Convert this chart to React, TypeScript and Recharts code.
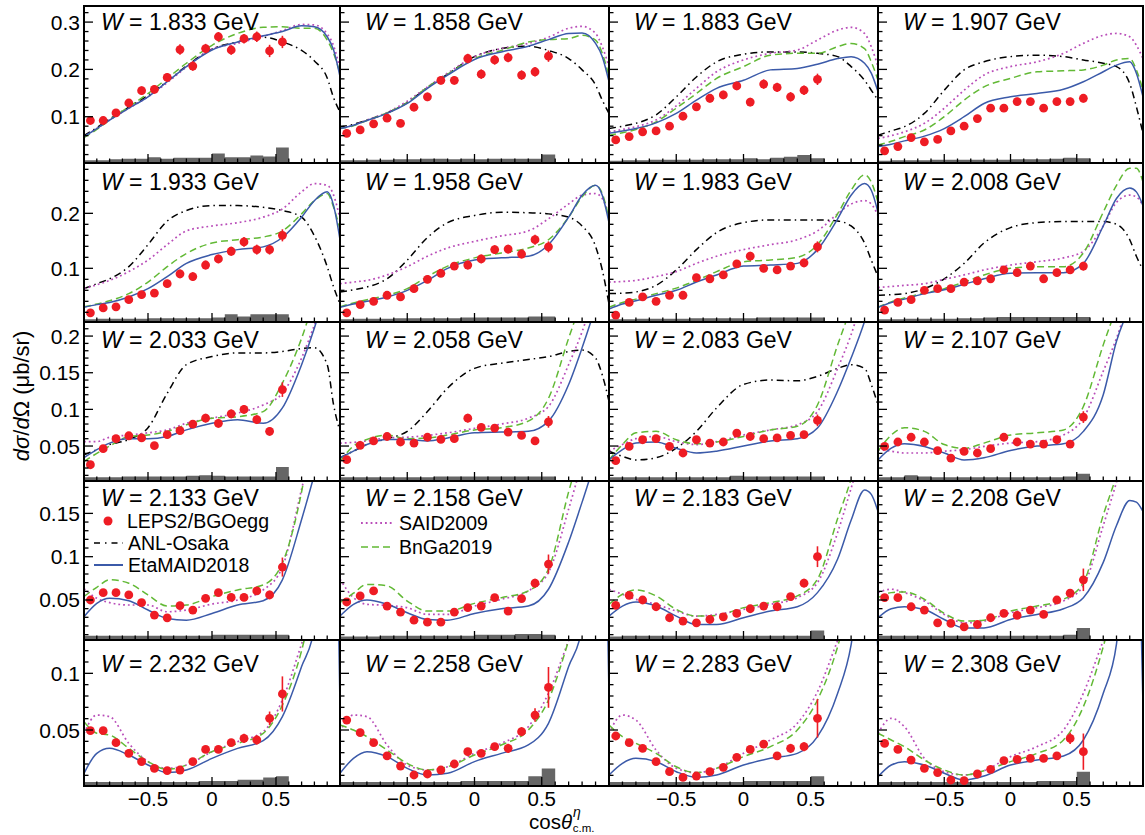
import React from "react";
import { ComposedChart, Line, Scatter, Area, XAxis, YAxis, ErrorBar } from "recharts";

const FONT = '"Liberation Sans", Arial, Helvetica, sans-serif';
const RED = "#ee1c24";
const BLUE = "#3b5aa9";
const GREEN = "#62b935";
const MAGENTA = "#b94db9";
const GRAY = "#666666";

// Beam energies of the 20 panels
const W_VALUES = [
  "1.833", "1.858", "1.883", "1.907",
  "1.933", "1.958", "1.983", "2.008",
  "2.033", "2.058", "2.083", "2.107",
  "2.133", "2.158", "2.183", "2.208",
  "2.232", "2.258", "2.283", "2.308",
];

// cos(theta) bin centres and bin edges of the measurement
const BIN_X = [-0.95, -0.85, -0.75, -0.65, -0.55, -0.45, -0.35, -0.25, -0.15, -0.05, 0.05, 0.15, 0.25, 0.35, 0.45, 0.55];
const BIN_EDGES = [-1, -0.9, -0.8, -0.7, -0.6, -0.5, -0.4, -0.3, -0.2, -0.1, 0, 0.1, 0.2, 0.3, 0.4, 0.5, 0.6];

// LEPS2/BGOegg differential cross sections (ub/sr)
const LEPS2 = [
  [0.092, 0.092, 0.108, 0.129, 0.155, 0.158, 0.183, 0.242, 0.207, 0.244, 0.269, 0.241, 0.265, 0.269, 0.239, 0.258],
  [0.065, 0.072, 0.085, 0.097, 0.086, 0.12, 0.142, 0.177, 0.177, 0.223, 0.19, 0.22, 0.225, 0.188, 0.195, 0.228],
  [0.051, 0.058, 0.068, 0.07, 0.08, 0.101, 0.121, 0.139, 0.146, 0.165, 0.131, 0.169, 0.162, 0.142, 0.156, 0.179],
  [0.028, 0.037, 0.056, 0.047, 0.052, 0.07, 0.08, 0.096, 0.118, 0.118, 0.132, 0.132, 0.118, 0.132, 0.132, 0.139],
  [0.019, 0.028, 0.03, 0.043, 0.052, 0.055, 0.072, 0.09, 0.085, 0.106, 0.117, 0.131, 0.148, 0.134, 0.134, 0.16],
  [0.019, 0.034, 0.04, 0.051, 0.048, 0.063, 0.08, 0.091, 0.104, 0.106, 0.117, 0.134, 0.135, 0.126, 0.152, 0.139],
  [0.015, 0.038, 0.048, 0.04, 0.051, 0.051, 0.083, 0.081, 0.088, 0.108, 0.122, 0.1, 0.097, 0.104, 0.11, 0.139],
  [0.024, 0.038, 0.043, 0.06, 0.063, 0.063, 0.075, 0.077, 0.081, 0.097, 0.092, 0.104, 0.081, 0.092, 0.097, 0.104],
  [0.0245, 0.0464, 0.06, 0.064, 0.061, 0.0505, 0.0655, 0.071, 0.08, 0.088, 0.081, 0.094, 0.1, 0.086, 0.07, 0.127],
  [0.0314, 0.051, 0.057, 0.063, 0.0555, 0.054, 0.062, 0.059, 0.06, 0.088, 0.0755, 0.0745, 0.069, 0.0645, 0.057, 0.083],
  [0.03, 0.0495, 0.0586, 0.06, 0.0495, 0.0405, 0.0586, 0.054, 0.0555, 0.0677, 0.063, 0.06, 0.061, 0.0645, 0.0655, 0.085],
  [0.0495, 0.0555, 0.062, 0.0555, 0.0436, 0.0336, 0.0427, 0.0405, 0.0464, 0.062, 0.0555, 0.0527, 0.0527, 0.0586, 0.0527, 0.0895],
  [0.05, 0.0585, 0.0585, 0.0558, 0.047, 0.0326, 0.0294, 0.0435, 0.0384, 0.0519, 0.0585, 0.053, 0.053, 0.0605, 0.0558, 0.088],
  [0.0477, 0.0547, 0.0605, 0.043, 0.036, 0.0267, 0.0244, 0.0244, 0.036, 0.0411, 0.043, 0.0527, 0.0372, 0.0516, 0.0694, 0.0915],
  [0.0438, 0.0554, 0.05, 0.0422, 0.0295, 0.0256, 0.0236, 0.0275, 0.0306, 0.0345, 0.0399, 0.043, 0.0422, 0.0539, 0.0694, 0.1],
  [0.0527, 0.0527, 0.0422, 0.0384, 0.0236, 0.0229, 0.019, 0.0217, 0.0295, 0.0345, 0.0322, 0.0384, 0.0333, 0.05, 0.0578, 0.0733],
  [0.0494, 0.0494, 0.0388, 0.0294, 0.0221, 0.0162, 0.0141, 0.0147, 0.0221, 0.0329, 0.0329, 0.0388, 0.0426, 0.0412, 0.0603, 0.0818],
  [0.0588, 0.0476, 0.0388, 0.0271, 0.0182, 0.0103, 0.0112, 0.0147, 0.02, 0.0309, 0.0294, 0.0353, 0.0338, 0.0485, 0.0632, 0.0876],
  [0.0447, 0.0388, 0.0338, 0.0221, 0.0132, 0.0082, 0.0094, 0.0132, 0.0171, 0.0259, 0.0329, 0.0376, 0.0271, 0.0338, 0.0353, 0.0603],
  [0.0382, 0.0329, 0.0235, 0.0162, 0.0124, 0.0059, 0.0053, 0.0112, 0.0153, 0.0229, 0.0241, 0.025, 0.025, 0.0271, 0.0426, 0.0309],
];

// Statistical errors
const LEPS2_ERR = [
  [0.008, 0.008, 0.008, 0.008, 0.009, 0.009, 0.009, 0.011, 0.01, 0.01, 0.01, 0.01, 0.01, 0.011, 0.013, 0.013],
  [0.007, 0.007, 0.007, 0.008, 0.008, 0.008, 0.009, 0.009, 0.009, 0.01, 0.01, 0.01, 0.01, 0.01, 0.01, 0.012],
  [0.006, 0.006, 0.007, 0.007, 0.007, 0.008, 0.008, 0.009, 0.009, 0.009, 0.009, 0.01, 0.01, 0.01, 0.01, 0.012],
  [0.006, 0.006, 0.006, 0.006, 0.007, 0.007, 0.007, 0.008, 0.008, 0.008, 0.008, 0.008, 0.008, 0.008, 0.008, 0.009],
  [0.006, 0.006, 0.006, 0.006, 0.007, 0.007, 0.007, 0.008, 0.008, 0.008, 0.008, 0.008, 0.009, 0.009, 0.009, 0.011],
  [0.006, 0.006, 0.006, 0.006, 0.007, 0.007, 0.007, 0.007, 0.007, 0.008, 0.008, 0.008, 0.008, 0.008, 0.009, 0.01],
  [0.006, 0.006, 0.006, 0.006, 0.006, 0.006, 0.007, 0.007, 0.007, 0.007, 0.008, 0.007, 0.007, 0.007, 0.008, 0.01],
  [0.005, 0.005, 0.005, 0.006, 0.006, 0.006, 0.006, 0.006, 0.006, 0.007, 0.007, 0.007, 0.007, 0.007, 0.007, 0.008],
  [0.005, 0.005, 0.005, 0.005, 0.005, 0.005, 0.005, 0.005, 0.005, 0.006, 0.006, 0.006, 0.006, 0.006, 0.006, 0.01],
  [0.004, 0.004, 0.004, 0.005, 0.005, 0.005, 0.005, 0.005, 0.005, 0.006, 0.005, 0.005, 0.005, 0.005, 0.005, 0.008],
  [0.004, 0.004, 0.004, 0.004, 0.004, 0.004, 0.005, 0.005, 0.005, 0.005, 0.005, 0.005, 0.005, 0.005, 0.005, 0.008],
  [0.004, 0.004, 0.004, 0.004, 0.004, 0.004, 0.004, 0.004, 0.004, 0.005, 0.005, 0.005, 0.005, 0.005, 0.005, 0.008],
  [0.004, 0.004, 0.004, 0.004, 0.004, 0.004, 0.004, 0.004, 0.004, 0.004, 0.004, 0.004, 0.004, 0.004, 0.005, 0.011],
  [0.004, 0.004, 0.004, 0.004, 0.004, 0.003, 0.003, 0.003, 0.004, 0.004, 0.004, 0.004, 0.004, 0.004, 0.005, 0.011],
  [0.003, 0.003, 0.003, 0.003, 0.003, 0.003, 0.003, 0.003, 0.003, 0.003, 0.003, 0.004, 0.004, 0.004, 0.005, 0.012],
  [0.003, 0.003, 0.003, 0.003, 0.003, 0.003, 0.003, 0.003, 0.003, 0.003, 0.003, 0.004, 0.004, 0.004, 0.005, 0.013],
  [0.003, 0.003, 0.003, 0.003, 0.003, 0.003, 0.003, 0.003, 0.003, 0.003, 0.003, 0.003, 0.004, 0.004, 0.006, 0.0155],
  [0.003, 0.003, 0.003, 0.003, 0.003, 0.003, 0.003, 0.003, 0.003, 0.003, 0.003, 0.003, 0.004, 0.004, 0.006, 0.018],
  [0.003, 0.003, 0.003, 0.003, 0.003, 0.003, 0.003, 0.003, 0.003, 0.003, 0.003, 0.003, 0.003, 0.004, 0.004, 0.017],
  [0.003, 0.003, 0.003, 0.003, 0.003, 0.003, 0.003, 0.003, 0.003, 0.003, 0.003, 0.003, 0.003, 0.003, 0.005, 0.016],
];

// Systematic uncertainties (histogram heights above the frame bottom)
const SYS = [
  [0.006, 0.006, 0.008, 0.009, 0.009, 0.012, 0.009, 0.011, 0.011, 0.011, 0.02, 0.012, 0.012, 0.016, 0.014, 0.033],
  [0.006, 0.006, 0.007, 0.007, 0.008, 0.008, 0.009, 0.009, 0.008, 0.009, 0.008, 0.009, 0.009, 0.009, 0.009, 0.018],
  [0.005, 0.006, 0.006, 0.007, 0.007, 0.007, 0.007, 0.008, 0.008, 0.008, 0.01, 0.008, 0.011, 0.013, 0.017, 0.01],
  [0.005, 0.006, 0.006, 0.006, 0.007, 0.007, 0.007, 0.007, 0.007, 0.007, 0.008, 0.008, 0.008, 0.009, 0.011, 0.01],
  [0.005, 0.006, 0.006, 0.006, 0.006, 0.007, 0.007, 0.007, 0.007, 0.007, 0.008, 0.014, 0.01, 0.014, 0.014, 0.014],
  [0.005, 0.006, 0.006, 0.006, 0.007, 0.007, 0.007, 0.007, 0.007, 0.008, 0.008, 0.008, 0.008, 0.008, 0.01, 0.01],
  [0.005, 0.005, 0.006, 0.006, 0.006, 0.006, 0.007, 0.007, 0.007, 0.007, 0.007, 0.008, 0.008, 0.008, 0.008, 0.008],
  [0.005, 0.005, 0.006, 0.006, 0.006, 0.006, 0.007, 0.007, 0.008, 0.009, 0.009, 0.009, 0.009, 0.009, 0.009, 0.009],
  [0.005, 0.005, 0.005, 0.006, 0.006, 0.006, 0.006, 0.006, 0.007, 0.008, 0.007, 0.006, 0.006, 0.006, 0.006, 0.019],
  [0.005, 0.005, 0.005, 0.005, 0.005, 0.005, 0.005, 0.006, 0.006, 0.006, 0.006, 0.006, 0.006, 0.006, 0.006, 0.006],
  [0.005, 0.005, 0.005, 0.005, 0.005, 0.005, 0.005, 0.005, 0.005, 0.007, 0.006, 0.006, 0.006, 0.006, 0.006, 0.006],
  [0.005, 0.005, 0.008, 0.006, 0.005, 0.005, 0.005, 0.005, 0.005, 0.005, 0.005, 0.005, 0.005, 0.005, 0.006, 0.01],
  [0.005, 0.005, 0.005, 0.005, 0.005, 0.005, 0.005, 0.005, 0.005, 0.005, 0.006, 0.006, 0.006, 0.006, 0.006, 0.006],
  [0.004, 0.004, 0.004, 0.005, 0.005, 0.005, 0.005, 0.005, 0.005, 0.005, 0.006, 0.006, 0.006, 0.007, 0.007, 0.006],
  [0.004, 0.005, 0.005, 0.005, 0.005, 0.005, 0.005, 0.005, 0.005, 0.005, 0.005, 0.005, 0.005, 0.005, 0.005, 0.011],
  [0.005, 0.005, 0.005, 0.005, 0.005, 0.005, 0.005, 0.005, 0.005, 0.005, 0.005, 0.005, 0.005, 0.005, 0.006, 0.014],
  [0.0035, 0.0035, 0.0035, 0.0035, 0.0035, 0.0035, 0.0035, 0.0035, 0.0035, 0.0045, 0.0045, 0.0045, 0.0055, 0.0055, 0.0075, 0.0085],
  [0.0035, 0.0035, 0.0035, 0.0035, 0.0035, 0.0035, 0.0035, 0.0035, 0.0035, 0.0045, 0.0045, 0.0045, 0.0045, 0.0045, 0.0085, 0.0155],
  [0.0035, 0.0035, 0.0035, 0.0035, 0.0035, 0.0035, 0.0035, 0.0035, 0.0035, 0.0035, 0.0045, 0.0045, 0.0045, 0.0045, 0.0045, 0.0085],
  [0.0035, 0.0035, 0.0035, 0.0035, 0.0035, 0.0035, 0.0035, 0.0035, 0.0035, 0.0035, 0.0035, 0.0035, 0.0045, 0.0045, 0.0045, 0.0125],
];

// cos(theta) sampling of the model curves
const CURVE_X = [-1, -0.9, -0.8, -0.65, -0.5, -0.35, -0.2, 0, 0.2, 0.4, 0.55, 0.7, 0.8, 0.9, 0.95, 1];

// ANL-Osaka (available up to W = 2.083 GeV)
const ANL = [
  [0.06, 0.077, 0.095, 0.12, 0.145, 0.175, 0.207, 0.243, 0.258, 0.268, 0.258, 0.24, 0.218, 0.182, 0.14, 0.11],
  [0.078, 0.084, 0.093, 0.108, 0.13, 0.162, 0.19, 0.227, 0.244, 0.249, 0.24, 0.223, 0.199, 0.167, 0.135, 0.107],
  [0.075, 0.08, 0.086, 0.104, 0.142, 0.184, 0.216, 0.232, 0.237, 0.237, 0.234, 0.227, 0.206, 0.177, 0.156, 0.135],
  [0.061, 0.07, 0.079, 0.107, 0.156, 0.199, 0.216, 0.227, 0.23, 0.227, 0.22, 0.213, 0.206, 0.17, 0.121, 0.065],
  [0.063, 0.072, 0.081, 0.103, 0.143, 0.186, 0.205, 0.214, 0.214, 0.211, 0.205, 0.193, 0.159, 0.103, 0.066, 0.035],
  [0.057, 0.061, 0.066, 0.081, 0.115, 0.156, 0.183, 0.196, 0.202, 0.201, 0.199, 0.193, 0.177, 0.14, 0.097, 0.035],
  [0.054, 0.055, 0.057, 0.069, 0.097, 0.134, 0.165, 0.183, 0.188, 0.188, 0.188, 0.186, 0.177, 0.146, 0.115, 0.085],
  [0.051, 0.052, 0.054, 0.063, 0.081, 0.109, 0.146, 0.174, 0.183, 0.185, 0.185, 0.185, 0.18, 0.152, 0.122, 0.097],
  [0.038, 0.045, 0.052, 0.059, 0.075, 0.122, 0.161, 0.172, 0.177, 0.177, 0.179, 0.183, 0.184, 0.161, 0.106, 0.07],
  [0.034, 0.043, 0.052, 0.06, 0.07, 0.097, 0.129, 0.156, 0.163, 0.168, 0.172, 0.179, 0.181, 0.17, 0.147, 0.111],
  [0.043, 0.036, 0.031, 0.034, 0.047, 0.07, 0.102, 0.134, 0.14, 0.139, 0.145, 0.156, 0.161, 0.156, 0.134, 0.106],
  null, null, null, null, null, null, null, null, null,
];

// SAID2009
const SAID = [
  [0.058, 0.075, 0.093, 0.118, 0.142, 0.172, 0.205, 0.243, 0.255, 0.27, 0.282, 0.295, 0.294, 0.275, 0.25, 0.2],
  [0.075, 0.082, 0.093, 0.109, 0.133, 0.163, 0.192, 0.227, 0.244, 0.255, 0.268, 0.287, 0.291, 0.276, 0.248, 0.206],
  [0.068, 0.073, 0.079, 0.093, 0.123, 0.16, 0.195, 0.22, 0.234, 0.241, 0.262, 0.283, 0.289, 0.276, 0.248, 0.206],
  [0.054, 0.06, 0.068, 0.086, 0.118, 0.156, 0.188, 0.206, 0.216, 0.234, 0.255, 0.272, 0.276, 0.269, 0.251, 0.223],
  [0.063, 0.07, 0.078, 0.094, 0.115, 0.143, 0.168, 0.177, 0.183, 0.193, 0.208, 0.239, 0.254, 0.251, 0.233, 0.19],
  [0.072, 0.075, 0.078, 0.088, 0.103, 0.122, 0.137, 0.149, 0.159, 0.168, 0.19, 0.217, 0.233, 0.236, 0.227, 0.196],
  [0.075, 0.076, 0.078, 0.085, 0.094, 0.109, 0.122, 0.134, 0.143, 0.152, 0.168, 0.199, 0.217, 0.223, 0.217, 0.196],
  [0.065, 0.067, 0.069, 0.072, 0.08, 0.088, 0.097, 0.106, 0.112, 0.119, 0.131, 0.177, 0.22, 0.233, 0.23, 0.214],
  [0.056, 0.056, 0.062, 0.065, 0.068, 0.072, 0.081, 0.088, 0.095, 0.106, 0.122, 0.17, 0.215, 0.26, 0.28, 0.29],
  [0.054, 0.055, 0.057, 0.061, 0.062, 0.0645, 0.068, 0.074, 0.08, 0.088, 0.104, 0.161, 0.206, 0.26, 0.28, 0.29],
  [0.043, 0.052, 0.06, 0.063, 0.056, 0.052, 0.056, 0.065, 0.072, 0.079, 0.097, 0.156, 0.202, 0.26, 0.28, 0.29],
  [0.045, 0.043, 0.0405, 0.0405, 0.043, 0.045, 0.0495, 0.054, 0.056, 0.065, 0.088, 0.152, 0.197, 0.25, 0.27, 0.29],
  [0.063, 0.052, 0.047, 0.0442, 0.0442, 0.0364, 0.0384, 0.0453, 0.05, 0.0616, 0.088, 0.178, 0.24, 0.28, 0.3, 0.31],
  [0.074, 0.0527, 0.045, 0.0438, 0.0411, 0.0333, 0.0333, 0.043, 0.0508, 0.0605, 0.0818, 0.155, 0.21, 0.27, 0.29, 0.28],
  [0.0624, 0.0566, 0.0508, 0.045, 0.0372, 0.0314, 0.0333, 0.0391, 0.045, 0.0527, 0.07, 0.128, 0.179, 0.23, 0.25, 0.26],
  [0.0585, 0.0624, 0.0585, 0.0488, 0.0333, 0.0236, 0.0256, 0.0353, 0.0411, 0.0488, 0.0663, 0.136, 0.186, 0.24, 0.26, 0.27],
  [0.0471, 0.0632, 0.0618, 0.0382, 0.0221, 0.0162, 0.0191, 0.0309, 0.0397, 0.0485, 0.0765, 0.126, 0.16, 0.2, 0.22, 0.23],
  [0.0485, 0.0632, 0.0618, 0.0368, 0.0191, 0.0147, 0.0176, 0.0294, 0.0382, 0.0529, 0.0824, 0.129, 0.16, 0.2, 0.22, 0.23],
  [0.0471, 0.0632, 0.0588, 0.0324, 0.0162, 0.0124, 0.0162, 0.0294, 0.0412, 0.0559, 0.0838, 0.129, 0.16, 0.2, 0.22, 0.23],
  [0.0471, 0.0603, 0.0529, 0.025, 0.0132, 0.0103, 0.0141, 0.0265, 0.0353, 0.05, 0.0824, 0.129, 0.16, 0.2, 0.22, 0.23],
];

// BnGa2019
const BNGA = [
  [0.056, 0.073, 0.093, 0.121, 0.149, 0.181, 0.213, 0.251, 0.276, 0.289, 0.29, 0.287, 0.287, 0.262, 0.234, 0.192],
  [0.075, 0.081, 0.092, 0.108, 0.13, 0.162, 0.19, 0.223, 0.24, 0.258, 0.263, 0.265, 0.272, 0.262, 0.234, 0.185],
  [0.061, 0.066, 0.073, 0.089, 0.118, 0.149, 0.181, 0.206, 0.23, 0.234, 0.234, 0.248, 0.255, 0.244, 0.216, 0.177],
  [0.04, 0.048, 0.058, 0.072, 0.1, 0.135, 0.163, 0.181, 0.195, 0.197, 0.199, 0.209, 0.22, 0.223, 0.199, 0.156],
  [0.03, 0.035, 0.041, 0.054, 0.075, 0.103, 0.127, 0.146, 0.152, 0.157, 0.168, 0.199, 0.223, 0.236, 0.211, 0.171],
  [0.03, 0.037, 0.043, 0.051, 0.063, 0.085, 0.104, 0.119, 0.128, 0.137, 0.152, 0.193, 0.23, 0.251, 0.236, 0.19],
  [0.029, 0.038, 0.044, 0.054, 0.064, 0.078, 0.094, 0.112, 0.115, 0.12, 0.143, 0.199, 0.242, 0.27, 0.257, 0.22],
  [0.029, 0.039, 0.046, 0.055, 0.063, 0.075, 0.088, 0.1, 0.103, 0.103, 0.128, 0.202, 0.251, 0.282, 0.282, 0.257],
  [0.029, 0.04, 0.05, 0.063, 0.065, 0.07, 0.079, 0.088, 0.09, 0.097, 0.136, 0.197, 0.25, 0.3, 0.32, 0.33],
  [0.029, 0.05, 0.059, 0.065, 0.06, 0.061, 0.065, 0.072, 0.075, 0.084, 0.115, 0.197, 0.25, 0.3, 0.32, 0.33],
  [0.031, 0.052, 0.068, 0.07, 0.0586, 0.053, 0.0555, 0.063, 0.072, 0.077, 0.106, 0.188, 0.24, 0.3, 0.32, 0.33],
  [0.043, 0.065, 0.075, 0.07, 0.052, 0.047, 0.054, 0.065, 0.068, 0.072, 0.104, 0.188, 0.24, 0.3, 0.32, 0.33],
  [0.054, 0.0647, 0.0733, 0.0694, 0.0558, 0.043, 0.0442, 0.054, 0.0616, 0.0674, 0.0927, 0.175, 0.26, 0.3, 0.32, 0.33],
  [0.047, 0.0578, 0.068, 0.0663, 0.0488, 0.0372, 0.0372, 0.0461, 0.0527, 0.0605, 0.0857, 0.175, 0.23, 0.3, 0.32, 0.3],
  [0.045, 0.0566, 0.0616, 0.0547, 0.0391, 0.0314, 0.0322, 0.0411, 0.0469, 0.0547, 0.074, 0.144, 0.19, 0.25, 0.27, 0.28],
  [0.0527, 0.0585, 0.0593, 0.0508, 0.0345, 0.0256, 0.0267, 0.0372, 0.043, 0.0508, 0.07, 0.148, 0.194, 0.25, 0.27, 0.28],
  [0.0574, 0.0471, 0.0456, 0.0338, 0.0221, 0.0153, 0.0191, 0.0309, 0.0382, 0.0471, 0.072, 0.12, 0.17, 0.22, 0.25, 0.27],
  [0.0544, 0.05, 0.0441, 0.0324, 0.0206, 0.0147, 0.0176, 0.0279, 0.0368, 0.05, 0.0765, 0.129, 0.17, 0.22, 0.25, 0.27],
  [0.0544, 0.0441, 0.0382, 0.0294, 0.0176, 0.0124, 0.0162, 0.0265, 0.0353, 0.05, 0.0765, 0.1235, 0.17, 0.22, 0.24, 0.25],
  [0.0471, 0.0412, 0.0353, 0.0235, 0.0147, 0.0103, 0.0141, 0.0221, 0.0294, 0.0412, 0.0706, 0.1235, 0.17, 0.22, 0.24, 0.25],
];

// EtaMAID2018
const MAID = [
  [0.058, 0.075, 0.093, 0.118, 0.142, 0.174, 0.206, 0.241, 0.258, 0.271, 0.28, 0.292, 0.29, 0.269, 0.241, 0.185],
  [0.075, 0.082, 0.092, 0.107, 0.128, 0.16, 0.188, 0.221, 0.237, 0.249, 0.263, 0.276, 0.277, 0.255, 0.227, 0.174],
  [0.065, 0.07, 0.075, 0.087, 0.107, 0.135, 0.16, 0.177, 0.199, 0.202, 0.211, 0.223, 0.227, 0.213, 0.192, 0.153],
  [0.037, 0.042, 0.049, 0.059, 0.075, 0.1, 0.128, 0.142, 0.149, 0.158, 0.174, 0.195, 0.209, 0.216, 0.192, 0.142],
  [0.029, 0.034, 0.038, 0.048, 0.063, 0.085, 0.109, 0.125, 0.134, 0.139, 0.156, 0.193, 0.223, 0.239, 0.214, 0.152],
  [0.029, 0.035, 0.04, 0.048, 0.06, 0.078, 0.1, 0.115, 0.119, 0.122, 0.143, 0.193, 0.233, 0.251, 0.233, 0.183],
  [0.026, 0.035, 0.041, 0.051, 0.06, 0.075, 0.088, 0.104, 0.106, 0.109, 0.134, 0.19, 0.233, 0.254, 0.242, 0.202],
  [0.029, 0.038, 0.044, 0.054, 0.061, 0.071, 0.081, 0.091, 0.092, 0.092, 0.109, 0.177, 0.227, 0.246, 0.239, 0.214],
  [0.034, 0.045, 0.054, 0.06, 0.06, 0.063, 0.072, 0.081, 0.086, 0.081, 0.102, 0.161, 0.211, 0.27, 0.3, 0.32],
  [0.034, 0.043, 0.052, 0.059, 0.059, 0.057, 0.061, 0.068, 0.069, 0.07, 0.084, 0.134, 0.184, 0.24, 0.27, 0.29],
  [0.031, 0.045, 0.054, 0.0555, 0.047, 0.0405, 0.043, 0.05, 0.057, 0.06, 0.0745, 0.125, 0.17, 0.22, 0.25, 0.28],
  [0.031, 0.047, 0.053, 0.0495, 0.0405, 0.031, 0.034, 0.044, 0.05, 0.053, 0.07, 0.12, 0.193, 0.24, 0.26, 0.28],
  [0.0306, 0.046, 0.052, 0.0492, 0.0384, 0.0287, 0.0267, 0.0345, 0.0442, 0.0492, 0.0733, 0.143, 0.195, 0.25, 0.28, 0.3],
  [0.0314, 0.045, 0.05, 0.045, 0.0353, 0.0275, 0.0267, 0.0345, 0.04, 0.043, 0.0624, 0.117, 0.163, 0.21, 0.23, 0.2],
  [0.0314, 0.043, 0.0477, 0.043, 0.0314, 0.0217, 0.0217, 0.0295, 0.0372, 0.0422, 0.0585, 0.0973, 0.142, 0.177, 0.172, 0.152],
  [0.0295, 0.0399, 0.0422, 0.0391, 0.0275, 0.0178, 0.0178, 0.0275, 0.0333, 0.0399, 0.0527, 0.0934, 0.136, 0.165, 0.163, 0.152],
  [0.0118, 0.0294, 0.0338, 0.0279, 0.0191, 0.0124, 0.0147, 0.025, 0.0338, 0.0406, 0.0618, 0.106, 0.14, 0.3, 0.3, 0.07],
  [0.0118, 0.025, 0.0309, 0.0265, 0.0162, 0.0103, 0.0118, 0.0221, 0.0294, 0.0368, 0.0559, 0.106, 0.14, 0.3, 0.3, 0.08],
  [0.0103, 0.0206, 0.025, 0.0221, 0.0132, 0.0082, 0.0103, 0.0191, 0.025, 0.0294, 0.0441, 0.0824, 0.125, 0.22, 0.2, 0.12],
  [0.0088, 0.0191, 0.0221, 0.0191, 0.0118, 0.0059, 0.0094, 0.0191, 0.0235, 0.0271, 0.0412, 0.0824, 0.126, 0.25, 0.25, 0.07],
];

// Axis settings per row
const Y_DOMAINS = [
  [0.0022, 0.334],
  [0.0024, 0.2915],
  [0.0023, 0.2192],
  [0.0038, 0.1874],
  [0.0006, 0.1294],
];
const Y_MAJOR = [
  [0.1, 0.2, 0.3],
  [0.1, 0.2],
  [0.05, 0.1, 0.15, 0.2],
  [0.05, 0.1, 0.15],
  [0.05, 0.1],
];
const Y_MINOR_STEP = [0.02, 0.02, 0.01, 0.01, 0.01];
const X_MAJOR = [-0.5, 0, 0.5];
const X_TICKS = [-0.9, -0.8, -0.7, -0.6, -0.5, -0.4, -0.3, -0.2, -0.1, 0, 0.1, 0.2, 0.3, 0.4, 0.5, 0.6, 0.7, 0.8, 0.9];

// Page layout of the panel grid
const COL_LEFT = [84, 340, 609, 878];
const COL_WIDTH = [256, 269, 269, 265];
const ROW_TOP = [6, 163, 322, 481, 640];
const ROW_HEIGHT = [157, 159, 159, 159, 146];
const TITLE_DX = [17, 25, 25, 25];
const TITLE_DY = [16, 19, 18, 17, 24];
const AXIS_W = 84;
const AXIS_H = 40;

function tickList(step: number, max: number) {
  const out: number[] = [];
  for (let k = 1; k * step <= max + 1e-9; k++) out.push(Math.round(k * step * 1000) / 1000);
  return out;
}

const isMajor = (v: number, majors: number[]) => majors.some((m) => Math.abs(m - v) < 1e-6);

function YTick(props: any) {
  const { x, y, payload, majors, showLabel } = props;
  const v = payload.value;
  const major = isMajor(v, majors);
  return (
    <g>
      <line x1={x} x2={x + (major ? 9 : 4.5)} y1={y} y2={y} stroke="#000" strokeWidth={1.3} />
      {major && showLabel ? (
        <text x={x - 4} y={y} textAnchor="end" dominantBaseline="central" fontSize={21} fontFamily={FONT} fill="#000">
          {String(v)}
        </text>
      ) : null}
    </g>
  );
}

function XTick(props: any) {
  const { x, y, payload, showLabel } = props;
  const v = payload.value;
  const major = isMajor(v, X_MAJOR);
  const label = v < 0 ? "\u2212" + String(-v) : String(v);
  return (
    <g>
      <line x1={x} x2={x} y1={y} y2={y - (major ? 9 : 4.5)} stroke="#000" strokeWidth={1.3} />
      {major && showLabel ? (
        <text x={x} y={y + 12.5} textAnchor="middle" dominantBaseline="central" fontSize={20.5} fontFamily={FONT} fill="#000">
          {label}
        </text>
      ) : null}
    </g>
  );
}

function Panel({ idx }: { idx: number }) {
  const r = Math.floor(idx / 4);
  const c = idx % 4;
  const left = COL_LEFT[c];
  const top = ROW_TOP[r];
  const w = COL_WIDTH[c];
  const h = ROW_HEIGHT[r];
  const [lo, hi] = Y_DOMAINS[r];
  const majors = Y_MAJOR[r];
  const yTicks = tickList(Y_MINOR_STEP[r], hi);
  const points = BIN_X.map((x, i) => ({ x, y: LEPS2[idx][i], e: LEPS2_ERR[idx][i] }));
  const sys = BIN_EDGES.map((x, i) => ({ x, y: lo + SYS[idx][Math.min(i, SYS[idx].length - 1)] }));
  const curve = (vals: number[]) => CURVE_X.map((x, i) => ({ x, y: vals[i] }));
  const anl = ANL[idx];
  return (
    <div style={{ position: "absolute", left: left - AXIS_W, top, width: w + AXIS_W, height: h + AXIS_H }}>
      <ComposedChart width={w + AXIS_W} height={h + AXIS_H} margin={{ top: 0, right: 0, bottom: 0, left: 0 }}>
        <XAxis
          xAxisId="x"
          type="number"
          dataKey="x"
          domain={[-1, 1]}
          allowDataOverflow
          ticks={X_TICKS}
          interval={0}
          tickSize={0}
          tickMargin={0}
          tickLine={false}
          axisLine={false}
          height={AXIS_H}
          tick={(p: any) => <XTick {...p} showLabel={r === 4} />}
        />
        <YAxis
          yAxisId="y"
          type="number"
          dataKey="y"
          domain={[lo, hi]}
          allowDataOverflow
          ticks={yTicks}
          interval={0}
          tickSize={0}
          tickMargin={0}
          tickLine={false}
          axisLine={false}
          width={AXIS_W}
          tick={(p: any) => <YTick {...p} majors={majors} showLabel={c === 0} />}
        />
        <Area
          xAxisId="x"
          yAxisId="y"
          data={sys}
          dataKey="y"
          type="stepAfter"
          fill={GRAY}
          fillOpacity={1}
          stroke="none"
          isAnimationActive={false}
        />
        {anl ? (
          <Line xAxisId="x" yAxisId="y" data={curve(anl)} dataKey="y" type="monotone" stroke="#000" strokeWidth={1.5}
            strokeDasharray="7 4 1.5 4" dot={false} activeDot={false} isAnimationActive={false} />
        ) : null}
        <Line xAxisId="x" yAxisId="y" data={curve(SAID[idx])} dataKey="y" type="monotone" stroke={MAGENTA} strokeWidth={1.7}
          strokeDasharray="1.8 3" dot={false} activeDot={false} isAnimationActive={false} />
        <Line xAxisId="x" yAxisId="y" data={curve(BNGA[idx])} dataKey="y" type="monotone" stroke={GREEN} strokeWidth={1.5}
          strokeDasharray="7 4" dot={false} activeDot={false} isAnimationActive={false} />
        <Line xAxisId="x" yAxisId="y" data={curve(MAID[idx])} dataKey="y" type="monotone" stroke={BLUE} strokeWidth={1.5}
          dot={false} activeDot={false} isAnimationActive={false} />
        <Scatter
          xAxisId="x"
          yAxisId="y"
          data={points}
          dataKey="y"
          fill={RED}
          isAnimationActive={false}
          shape={(p: any) => <circle cx={p.cx} cy={p.cy} r={4.4} fill={RED} />}
        >
          <ErrorBar dataKey="e" direction="y" width={0} stroke={RED} strokeWidth={1.6} isAnimationActive={false} />
        </Scatter>
      </ComposedChart>
    </div>
  );
}

function PanelFrame({ idx }: { idx: number }) {
  const r = Math.floor(idx / 4);
  const c = idx % 4;
  const left = COL_LEFT[c];
  const top = ROW_TOP[r];
  const w = COL_WIDTH[c];
  const h = ROW_HEIGHT[r];
  return (
    <>
      <div
        style={{
          position: "absolute",
          left: left - 1,
          top: top - 1,
          width: w + 2,
          height: h + 2,
          border: "2px solid #000",
          boxSizing: "border-box",
          pointerEvents: "none",
        }}
      />
      <div
        style={{
          position: "absolute",
          left: left + TITLE_DX[c],
          top: top + TITLE_DY[r] - 13,
          height: 26,
          lineHeight: "26px",
          fontSize: 23,
          fontFamily: FONT,
          whiteSpace: "nowrap",
          color: "#000",
        }}
      >
        <i>W</i> = {W_VALUES[idx]} GeV
      </div>
    </>
  );
}

// Legend rows: vertical centre, glyph and label
function Legends() {
  const textProps = { fontSize: 19.5, fontFamily: FONT, fill: "#000", dominantBaseline: "central" as const };
  return (
    <svg style={{ position: "absolute", left: 0, top: 0 }} width={1145} height={835}>
      <circle cx={108} cy={521} r={4.5} fill={RED} />
      <text x={127} y={521} {...textProps}>LEPS2/BGOegg</text>
      <line x1={94} x2={123} y1={543} y2={543} stroke="#000" strokeWidth={1.5} strokeDasharray="6 5 1.5 5" />
      <text x={128} y={543} {...textProps}>ANL-Osaka</text>
      <line x1={94} x2={123} y1={565} y2={565} stroke={BLUE} strokeWidth={2} />
      <text x={128} y={565} {...textProps}>EtaMAID2018</text>
      <line x1={361} x2={393} y1={523} y2={523} stroke={MAGENTA} strokeWidth={1.8} strokeDasharray="1.8 3" />
      <text x={399} y={523} {...textProps}>SAID2009</text>
      <line x1={361} x2={393} y1={547} y2={547} stroke={GREEN} strokeWidth={1.6} strokeDasharray="7 4" />
      <text x={399} y={547} {...textProps}>BnGa2019</text>
    </svg>
  );
}

function AxisTitles() {
  return (
    <>
      <div
        style={{
          position: "absolute",
          left: 22 - 100,
          top: 396 - 14,
          width: 200,
          height: 28,
          lineHeight: "28px",
          textAlign: "center",
          transform: "rotate(-90deg)",
          fontSize: 22,
          fontFamily: FONT,
          whiteSpace: "nowrap",
          color: "#000",
        }}
      >
        <i>d</i>
        <i>σ</i>/<i>d</i>Ω (μb/sr)
      </div>
      <svg style={{ position: "absolute", left: 0, top: 0 }} width={1145} height={835}>
        <text x={529} y={829} fontSize={20.5} fontFamily={FONT} fill="#000">
          cos<tspan fontStyle="italic">θ</tspan>
          <tspan fontSize={14} fontStyle="italic" dx={1} dy={-12}>η</tspan>
          <tspan fontSize={11.5} dx={-8} dy={14.5}>c.m.</tspan>
        </text>
      </svg>
    </>
  );
}

export default function App() {
  return (
    <div
      style={{
        position: "absolute",
        left: 0,
        top: 0,
        width: 1145,
        height: 835,
        background: "#fff",
        overflow: "hidden",
        fontFamily: FONT,
      }}
    >
      {W_VALUES.map((_, i) => (
        <Panel key={"p" + i} idx={i} />
      ))}
      {W_VALUES.map((_, i) => (
        <PanelFrame key={"f" + i} idx={i} />
      ))}
      <Legends />
      <AxisTitles />
    </div>
  );
}
